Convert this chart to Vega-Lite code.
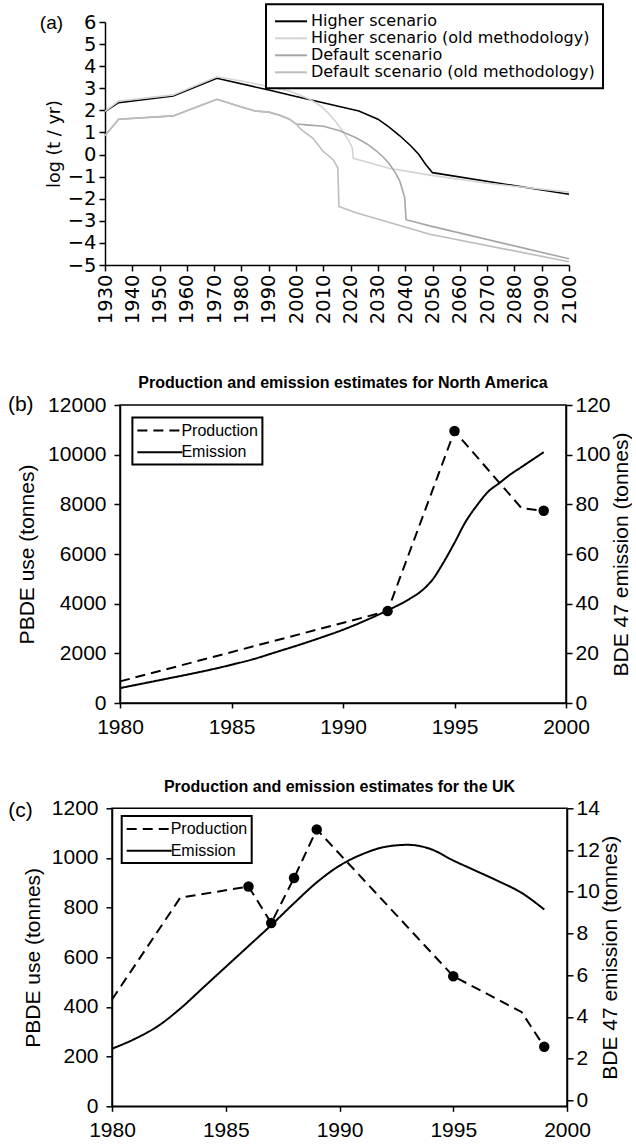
{
  "$schema": "https://vega.github.io/schema/vega-lite/v6.json",
  "background": "white",
  "padding": {"left": 0, "top": 3, "right": 0, "bottom": 0},
  "config": {
    "font": "Liberation Sans",
    "view": {"stroke": null},
    "axis": {"grid": false, "domainColor": "black", "tickColor": "black", "labelColor": "black", "titleColor": "black", "titleFontWeight": "normal", "domainWidth": 1.5, "tickWidth": 1.5, "labelFlush": false, "labelOverlap": false},
    "legend": {"labelColor": "black", "strokeWidth": 2},
    "title": {"color": "black"}
  },
  "resolve": {"scale": {"color": "independent", "strokeDash": "independent"}, "legend": {"color": "independent", "strokeDash": "independent"}},
  "spacing": 50,
  "vconcat": [
    {
      "resolve": {"scale": {"color": "independent", "strokeDash": "independent"}, "legend": {"color": "independent", "strokeDash": "independent"}},
      "spacing": 0,
      "hconcat": [
        {"width": 38.5, "height": 10, "data": {"values": []}, "mark": "point"},
        {
          "width": 464,
          "height": 243,
          "data": {"values": [
            {"series": "Higher scenario", "year": 1930, "value": 1.95},
            {"series": "Higher scenario", "year": 1935, "value": 2.35},
            {"series": "Higher scenario", "year": 1955, "value": 2.65},
            {"series": "Higher scenario", "year": 1971, "value": 3.45},
            {"series": "Higher scenario", "year": 1990, "value": 2.92},
            {"series": "Higher scenario", "year": 2000, "value": 2.63},
            {"series": "Higher scenario", "year": 2023, "value": 1.97},
            {"series": "Higher scenario", "year": 2030, "value": 1.6},
            {"series": "Higher scenario", "year": 2034, "value": 1.25},
            {"series": "Higher scenario", "year": 2038, "value": 0.85},
            {"series": "Higher scenario", "year": 2042, "value": 0.4},
            {"series": "Higher scenario", "year": 2045, "value": 0.0},
            {"series": "Higher scenario", "year": 2047.5, "value": -0.45},
            {"series": "Higher scenario", "year": 2050, "value": -0.82},
            {"series": "Higher scenario", "year": 2100, "value": -1.8},
            {"series": "Higher scenario (old methodology)", "year": 1930, "value": 1.95},
            {"series": "Higher scenario (old methodology)", "year": 1935, "value": 2.42},
            {"series": "Higher scenario (old methodology)", "year": 1955, "value": 2.7},
            {"series": "Higher scenario (old methodology)", "year": 1971, "value": 3.52},
            {"series": "Higher scenario (old methodology)", "year": 1980, "value": 3.33},
            {"series": "Higher scenario (old methodology)", "year": 1989, "value": 3.1},
            {"series": "Higher scenario (old methodology)", "year": 1997.6, "value": 2.88},
            {"series": "Higher scenario (old methodology)", "year": 2005, "value": 2.5},
            {"series": "Higher scenario (old methodology)", "year": 2009, "value": 2.2},
            {"series": "Higher scenario (old methodology)", "year": 2012, "value": 1.85},
            {"series": "Higher scenario (old methodology)", "year": 2015, "value": 1.42},
            {"series": "Higher scenario (old methodology)", "year": 2017, "value": 1.07},
            {"series": "Higher scenario (old methodology)", "year": 2019.5, "value": 0.6},
            {"series": "Higher scenario (old methodology)", "year": 2020.6, "value": 0.3},
            {"series": "Higher scenario (old methodology)", "year": 2021, "value": -0.17},
            {"series": "Higher scenario (old methodology)", "year": 2034, "value": -0.62},
            {"series": "Higher scenario (old methodology)", "year": 2049, "value": -0.93},
            {"series": "Higher scenario (old methodology)", "year": 2070, "value": -1.3},
            {"series": "Higher scenario (old methodology)", "year": 2085, "value": -1.5},
            {"series": "Higher scenario (old methodology)", "year": 2100, "value": -1.7},
            {"series": "Default scenario", "year": 1930, "value": 0.85},
            {"series": "Default scenario", "year": 1935, "value": 1.6},
            {"series": "Default scenario", "year": 1955, "value": 1.75},
            {"series": "Default scenario", "year": 1971, "value": 2.5},
            {"series": "Default scenario", "year": 1980, "value": 2.15},
            {"series": "Default scenario", "year": 1985, "value": 1.97},
            {"series": "Default scenario", "year": 1990, "value": 1.92},
            {"series": "Default scenario", "year": 1994, "value": 1.78},
            {"series": "Default scenario", "year": 1997.6, "value": 1.6},
            {"series": "Default scenario", "year": 2000, "value": 1.38},
            {"series": "Default scenario", "year": 2005, "value": 1.33},
            {"series": "Default scenario", "year": 2010, "value": 1.28},
            {"series": "Default scenario", "year": 2016, "value": 1.08},
            {"series": "Default scenario", "year": 2022, "value": 0.76},
            {"series": "Default scenario", "year": 2026, "value": 0.48},
            {"series": "Default scenario", "year": 2029.5, "value": 0.16},
            {"series": "Default scenario", "year": 2032, "value": -0.12},
            {"series": "Default scenario", "year": 2034.3, "value": -0.44},
            {"series": "Default scenario", "year": 2036.5, "value": -0.85},
            {"series": "Default scenario", "year": 2038, "value": -1.2},
            {"series": "Default scenario", "year": 2039.8, "value": -1.95},
            {"series": "Default scenario", "year": 2040.3, "value": -2.95},
            {"series": "Default scenario", "year": 2049, "value": -3.23},
            {"series": "Default scenario", "year": 2100, "value": -4.72},
            {"series": "Default scenario (old methodology)", "year": 1930, "value": 0.85},
            {"series": "Default scenario (old methodology)", "year": 1935, "value": 1.6},
            {"series": "Default scenario (old methodology)", "year": 1955, "value": 1.75},
            {"series": "Default scenario (old methodology)", "year": 1971, "value": 2.5},
            {"series": "Default scenario (old methodology)", "year": 1980, "value": 2.15},
            {"series": "Default scenario (old methodology)", "year": 1985, "value": 1.97},
            {"series": "Default scenario (old methodology)", "year": 1990, "value": 1.92},
            {"series": "Default scenario (old methodology)", "year": 1994, "value": 1.78},
            {"series": "Default scenario (old methodology)", "year": 1997.6, "value": 1.6},
            {"series": "Default scenario (old methodology)", "year": 2000, "value": 1.38},
            {"series": "Default scenario (old methodology)", "year": 2002, "value": 1.12},
            {"series": "Default scenario (old methodology)", "year": 2006, "value": 0.76},
            {"series": "Default scenario (old methodology)", "year": 2007.4, "value": 0.54},
            {"series": "Default scenario (old methodology)", "year": 2009.8, "value": 0.16},
            {"series": "Default scenario (old methodology)", "year": 2013.5, "value": -0.22},
            {"series": "Default scenario (old methodology)", "year": 2015.3, "value": -0.6},
            {"series": "Default scenario (old methodology)", "year": 2015.7, "value": -2.35},
            {"series": "Default scenario (old methodology)", "year": 2022, "value": -2.63},
            {"series": "Default scenario (old methodology)", "year": 2049, "value": -3.61},
            {"series": "Default scenario (old methodology)", "year": 2100, "value": -4.85}
          ]},
          "mark": {"type": "line", "strokeWidth": 1.6},
          "encoding": {
            "x": {"field": "year", "type": "quantitative", "scale": {"domain": [1930, 2100], "nice": false, "zero": false},
              "axis": {"title": "(a)", "titleX": -65.7, "titleY": -236.3, "titleAngle": 0, "titleAlign": "left", "titleBaseline": "alphabetic", "titleFontSize": 19, "values": [1930, 1940, 1950, 1960, 1970, 1980, 1990, 2000, 2010, 2020, 2030, 2040, 2050, 2060, 2070, 2080, 2090, 2100], "format": "d", "labelAngle": -90, "labelFont": "DejaVu Sans", "labelFontSize": 19.5, "tickSize": 6, "labelPadding": 3}},
            "y": {"field": "value", "type": "quantitative", "scale": {"domain": [-5, 6], "nice": false, "zero": false},
              "axis": {"title": "log (t / yr)", "values": [-5, -4, -3, -2, -1, 0, 1, 2, 3, 4, 5, 6], "format": "d", "labelFont": "DejaVu Sans", "labelFontSize": 19.5, "titleFont": "DejaVu Sans", "titleFontSize": 17.6, "tickSize": 6, "labelPadding": 3, "titlePadding": 4}},
            "color": {"field": "series", "type": "nominal",
              "scale": {"domain": ["Higher scenario", "Higher scenario (old methodology)", "Default scenario", "Default scenario (old methodology)"], "range": ["#000000", "#d4d4d4", "#a6a6a6", "#bdbdbd"]},
              "legend": {"title": null, "orient": "none", "legendX": 161, "legendY": -17.7, "direction": "vertical", "symbolType": "M-1,0H3", "symbolSize": 256, "symbolStrokeWidth": 2, "symbolFillColor": "transparent", "labelFont": "DejaVu Sans", "labelFontSize": 16, "labelLimit": 400, "labelOffset": 18.9, "strokeColor": "black", "fillColor": "white", "padding": 8, "rowPadding": -1.8}}
          }
        }
      ]
    },
    {
      "resolve": {"scale": {"color": "independent", "strokeDash": "independent"}, "legend": {"color": "independent", "strokeDash": "independent"}},
      "spacing": 39.3,
      "vconcat": [
        {
          "resolve": {"scale": {"color": "independent", "strokeDash": "independent"}, "legend": {"color": "independent", "strokeDash": "independent"}},
          "spacing": 0,
          "hconcat": [
            {"width": 5.2, "height": 10, "data": {"values": []}, "mark": "point"},
            {
              "width": 446,
              "height": 298,
              "view": {"stroke": "black", "strokeWidth": 1.5},
              "title": {"text": "Production and emission estimates for North America", "fontSize": 16, "fontWeight": "bold", "anchor": "middle", "frame": "group", "baseline": "alphabetic", "offset": -10.6},
              "encoding": {
                "x": {"field": "year", "type": "quantitative", "scale": {"domain": [1980, 2000], "nice": false, "zero": false},
                  "axis": {"title": "(b)", "titleX": -112.6, "titleY": -292.3, "titleAngle": 0, "titleAlign": "left", "titleBaseline": "alphabetic", "titleFontSize": 21, "values": [1980, 1985, 1990, 1995, 2000], "format": "d", "labelAngle": 0, "labelFontSize": 21, "tickSize": 5, "labelPadding": 8}}
              },
              "layer": [
                {
                  "data": {"values": [
                    {"series": "Production", "year": 1980, "value": 870, "marker": false},
                    {"series": "Production", "year": 1992, "value": 3700, "marker": true},
                    {"series": "Production", "year": 1995, "value": 10950, "marker": true},
                    {"series": "Production", "year": 1998, "value": 7850, "marker": false},
                    {"series": "Production", "year": 1999, "value": 7740, "marker": true}
                  ]},
                  "layer": [
                    {
                      "mark": {"type": "line", "color": "black", "strokeWidth": 2},
                      "encoding": {
                        "y": {"field": "value", "type": "quantitative", "scale": {"domain": [0, 12000], "nice": false, "zero": false},
                          "axis": {"title": "PBDE use (tonnes)", "values": [0, 2000, 4000, 6000, 8000, 10000, 12000], "format": "d", "labelFontSize": 21, "titleFontSize": 21, "tickSize": 6, "labelPadding": 8, "titlePadding": 10}},
                        "strokeDash": {"field": "series", "type": "nominal",
                          "scale": {"domain": ["Production", "Emission"], "range": [[10, 6], [1, 0]]},
                          "legend": {"title": null, "orient": "none", "legendX": 12.4, "legendY": 12.6, "symbolType": "M-1,0H4.625", "symbolSize": 256, "symbolStrokeWidth": 2, "symbolStrokeColor": "black", "symbolFillColor": "transparent", "labelFontSize": 16, "labelOffset": 27, "strokeColor": "black", "fillColor": "white", "padding": 4, "rowPadding": 4.7}}
                      }
                    },
                    {
                      "transform": [{"filter": {"field": "marker", "equal": true}}],
                      "mark": {"type": "point", "filled": true, "color": "black", "opacity": 1, "size": 110},
                      "encoding": {
                        "y": {"field": "value", "type": "quantitative", "scale": {"domain": [0, 12000], "nice": false, "zero": false}}
                      }
                    }
                  ]
                },
                {
                  "data": {"values": [
                    {"series": "Emission", "year": 1980, "value": 6.0},
                    {"series": "Emission", "year": 1981, "value": 7.8},
                    {"series": "Emission", "year": 1982, "value": 9.6},
                    {"series": "Emission", "year": 1983, "value": 11.4},
                    {"series": "Emission", "year": 1984, "value": 13.3},
                    {"series": "Emission", "year": 1985, "value": 15.4},
                    {"series": "Emission", "year": 1986, "value": 17.7},
                    {"series": "Emission", "year": 1987, "value": 20.5},
                    {"series": "Emission", "year": 1988, "value": 23.3},
                    {"series": "Emission", "year": 1989, "value": 26.3},
                    {"series": "Emission", "year": 1990, "value": 29.5},
                    {"series": "Emission", "year": 1991, "value": 33.2},
                    {"series": "Emission", "year": 1992, "value": 37.3},
                    {"series": "Emission", "year": 1993, "value": 42},
                    {"series": "Emission", "year": 1993.5, "value": 45},
                    {"series": "Emission", "year": 1994, "value": 49.5},
                    {"series": "Emission", "year": 1994.5, "value": 56.5},
                    {"series": "Emission", "year": 1995, "value": 64.5},
                    {"series": "Emission", "year": 1995.5, "value": 73},
                    {"series": "Emission", "year": 1996, "value": 79.5},
                    {"series": "Emission", "year": 1996.5, "value": 85},
                    {"series": "Emission", "year": 1997, "value": 88.5},
                    {"series": "Emission", "year": 1997.5, "value": 92},
                    {"series": "Emission", "year": 1998, "value": 95},
                    {"series": "Emission", "year": 1998.5, "value": 98},
                    {"series": "Emission", "year": 1999, "value": 101}
                  ]},
                  "mark": {"type": "line", "color": "black", "strokeWidth": 2, "interpolate": "monotone"},
                  "encoding": {
                    "y": {"field": "value", "type": "quantitative", "scale": {"domain": [0, 120], "nice": false, "zero": false},
                      "axis": {"orient": "right", "title": "BDE 47 emission (tonnes)", "values": [0, 20, 40, 60, 80, 100, 120], "format": "d", "labelFontSize": 21, "titleFontSize": 21, "titleAngle": 270, "titleBaseline": "top", "tickSize": 6, "labelPadding": 3, "titlePadding": 0}},
                    "strokeDash": {"field": "series", "type": "nominal"}
                  }
                }
              ],
              "resolve": {"scale": {"y": "independent"}}
            }
          ]
        },
        {
          "resolve": {"scale": {"color": "independent", "strokeDash": "independent"}, "legend": {"color": "independent", "strokeDash": "independent"}},
          "spacing": 0,
          "hconcat": [
            {"width": 5.2, "height": 10, "data": {"values": []}, "mark": "point"},
            {
              "width": 455,
              "height": 298,
              "view": {"stroke": "black", "strokeWidth": 1.5},
              "title": {"text": "Production and emission estimates for the UK", "fontSize": 16, "fontWeight": "bold", "anchor": "middle", "frame": "group", "baseline": "alphabetic", "offset": -10.2},
              "encoding": {
                "x": {"field": "year", "type": "quantitative", "scale": {"domain": [1980, 2000], "nice": false, "zero": false},
                  "axis": {"title": "(c)", "titleX": -104.3, "titleY": -290.2, "titleAngle": 0, "titleAlign": "left", "titleBaseline": "alphabetic", "titleFontSize": 21, "values": [1980, 1985, 1990, 1995, 2000], "format": "d", "labelAngle": 0, "labelFontSize": 21, "tickSize": 5, "labelPadding": 8}}
              },
              "layer": [
                {
                  "data": {"values": [
                    {"series": "Production", "year": 1980, "value": 430, "marker": false},
                    {"series": "Production", "year": 1983, "value": 840, "marker": false},
                    {"series": "Production", "year": 1986, "value": 885, "marker": true},
                    {"series": "Production", "year": 1987, "value": 738, "marker": true},
                    {"series": "Production", "year": 1988, "value": 919, "marker": true},
                    {"series": "Production", "year": 1989, "value": 1115, "marker": true},
                    {"series": "Production", "year": 1995, "value": 524, "marker": true},
                    {"series": "Production", "year": 1998, "value": 380, "marker": false},
                    {"series": "Production", "year": 1999, "value": 240, "marker": true}
                  ]},
                  "layer": [
                    {
                      "mark": {"type": "line", "color": "black", "strokeWidth": 2},
                      "encoding": {
                        "y": {"field": "value", "type": "quantitative", "scale": {"domain": [0, 1200], "nice": false, "zero": false},
                          "axis": {"title": "PBDE use (tonnes)", "values": [0, 200, 400, 600, 800, 1000, 1200], "format": "d", "labelFontSize": 21, "titleFontSize": 21, "tickSize": 6, "labelPadding": 8, "titlePadding": 8}},
                        "strokeDash": {"field": "series", "type": "nominal",
                          "scale": {"domain": ["Production", "Emission"], "range": [[10, 6], [1, 0]]},
                          "legend": {"title": null, "orient": "none", "legendX": 9.7, "legendY": 7.8, "symbolType": "M-1,0H4.625", "symbolSize": 256, "symbolStrokeWidth": 2, "symbolStrokeColor": "black", "symbolFillColor": "transparent", "labelFontSize": 16, "labelOffset": 27, "strokeColor": "black", "fillColor": "white", "padding": 4, "rowPadding": 4.7}}
                      }
                    },
                    {
                      "transform": [{"filter": {"field": "marker", "equal": true}}],
                      "mark": {"type": "point", "filled": true, "color": "black", "opacity": 1, "size": 110},
                      "encoding": {
                        "y": {"field": "value", "type": "quantitative", "scale": {"domain": [0, 1200], "nice": false, "zero": false}}
                      }
                    }
                  ]
                },
                {
                  "data": {"values": [
                    {"series": "Emission", "year": 1980, "value": 2.48},
                    {"series": "Emission", "year": 1981, "value": 2.95},
                    {"series": "Emission", "year": 1982, "value": 3.55},
                    {"series": "Emission", "year": 1983, "value": 4.4},
                    {"series": "Emission", "year": 1984, "value": 5.4},
                    {"series": "Emission", "year": 1985, "value": 6.4},
                    {"series": "Emission", "year": 1986, "value": 7.4},
                    {"series": "Emission", "year": 1987, "value": 8.4},
                    {"series": "Emission", "year": 1988, "value": 9.45},
                    {"series": "Emission", "year": 1989, "value": 10.45},
                    {"series": "Emission", "year": 1990, "value": 11.25},
                    {"series": "Emission", "year": 1991, "value": 11.8},
                    {"series": "Emission", "year": 1992, "value": 12.15},
                    {"series": "Emission", "year": 1993, "value": 12.25},
                    {"series": "Emission", "year": 1994, "value": 12.05},
                    {"series": "Emission", "year": 1995, "value": 11.5},
                    {"series": "Emission", "year": 1996, "value": 11.0},
                    {"series": "Emission", "year": 1997, "value": 10.5},
                    {"series": "Emission", "year": 1998, "value": 9.95},
                    {"series": "Emission", "year": 1999, "value": 9.15}
                  ]},
                  "mark": {"type": "line", "color": "black", "strokeWidth": 2, "interpolate": "monotone"},
                  "encoding": {
                    "y": {"field": "value", "type": "quantitative", "scale": {"domain": [-0.28, 14], "nice": false, "zero": false},
                      "axis": {"orient": "right", "title": "BDE 47 emission (tonnes)", "values": [0, 2, 4, 6, 8, 10, 12, 14], "format": "d", "labelFontSize": 21, "titleFontSize": 21, "titleAngle": 270, "titleBaseline": "top", "tickSize": 6, "labelPadding": 3, "titlePadding": 0}},
                    "strokeDash": {"field": "series", "type": "nominal"}
                  }
                }
              ],
              "resolve": {"scale": {"y": "independent"}}
            }
          ]
        }
      ]
    }
  ]
}
